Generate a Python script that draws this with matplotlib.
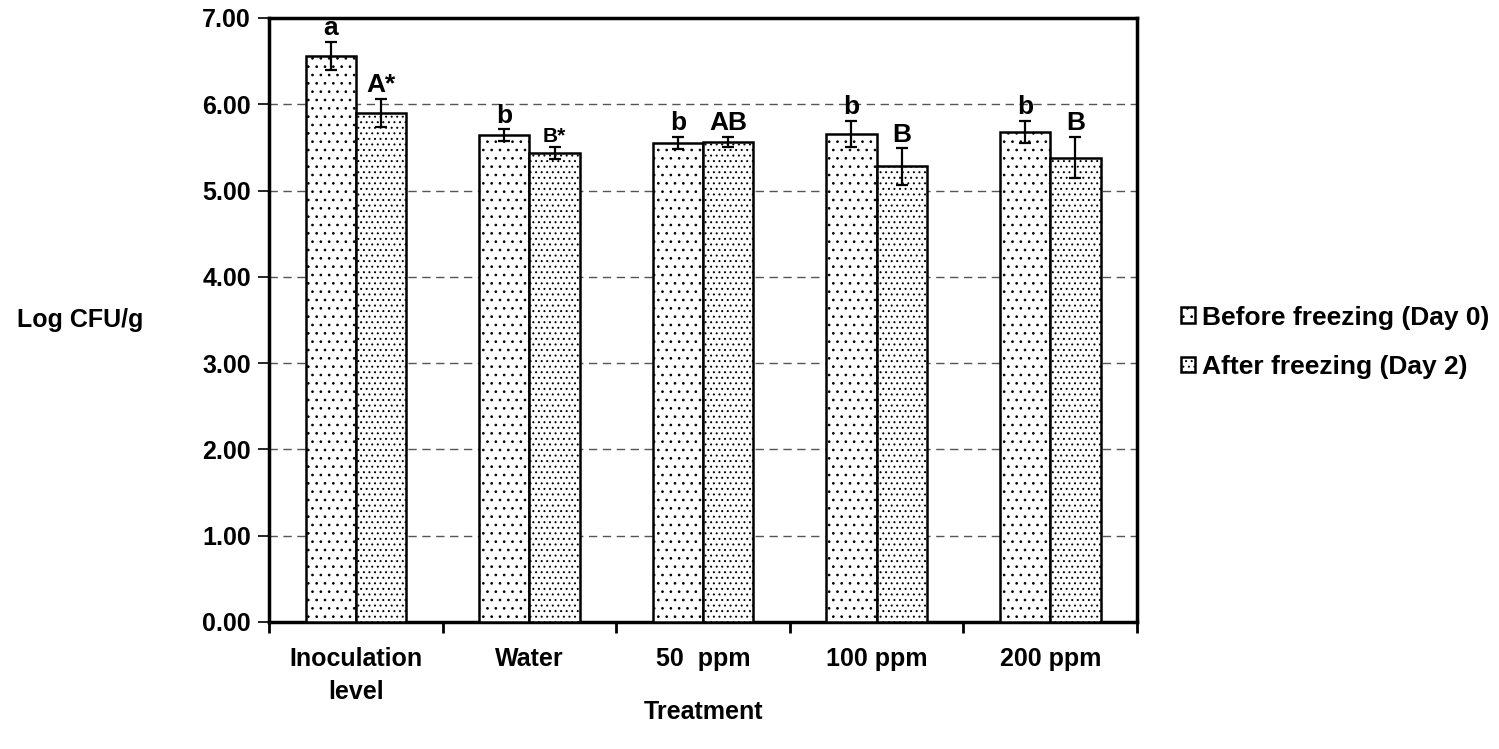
import numpy as np
import matplotlib
matplotlib.use("Agg")
import matplotlib.pyplot as plt

plt.rcParams["font.family"] = ["Liberation Sans", "DejaVu Sans"]
plt.rcParams["font.weight"] = "bold"
plt.rcParams["hatch.linewidth"] = 0.7

categories = ["Inoculation\nlevel", "Water", "50  ppm", "100 ppm", "200 ppm"]
before = [6.56, 5.64, 5.55, 5.66, 5.68]
before_err = [0.16, 0.07, 0.07, 0.15, 0.13]
after = [5.90, 5.43, 5.56, 5.28, 5.38]
after_err = [0.16, 0.07, 0.06, 0.21, 0.24]
before_letters = ["a", "b", "b", "b", "b"]
after_letters = ["A*", "B*", "AB", "B", "B"]

fig = plt.figure(figsize=(14.99, 7.49), dpi=100)
ax = fig.add_axes([0.1795, 0.1696, 0.579, 0.8064])

x = np.arange(len(categories)) + 0.5
w = 0.29
b1 = ax.bar(x - w / 2, before, w, color="white", edgecolor="black", linewidth=1.8,
            hatch="..", label="Before freezing (Day 0)", zorder=3)
b2 = ax.bar(x + w / 2, after, w, color="white", edgecolor="black", linewidth=1.8,
            hatch="...", label="After freezing (Day 2)", zorder=3)
ax.errorbar(x - w / 2, before, yerr=before_err, fmt="none", ecolor="black",
            elinewidth=1.6, capsize=4.5, capthick=1.6, zorder=4)
ax.errorbar(x + w / 2, after, yerr=after_err, fmt="none", ecolor="black",
            elinewidth=1.6, capsize=4.5, capthick=1.6, zorder=4)

for i in range(len(categories)):
    ax.text(x[i] - w / 2, before[i] + before_err[i] + 0.02, before_letters[i],
            ha="center", va="bottom", fontsize=19, fontweight="bold")
    fs = 15 if after_letters[i] == "B*" else 19
    ax.text(x[i] + w / 2, after[i] + after_err[i] + 0.02, after_letters[i],
            ha="center", va="bottom", fontsize=fs, fontweight="bold")

ax.set_xlim(0, len(categories))
ax.set_ylim(0, 7)
ax.set_yticks(np.arange(0, 7.01, 1))
ax.set_yticklabels([f"{v:.2f}" for v in np.arange(0, 7.01, 1)], fontsize=18, fontweight="bold")
ax.set_xticks(np.arange(len(categories) + 1))
ax.set_xticklabels([])
ax.set_xticks(x, minor=True)
ax.set_xticklabels(categories, minor=True, fontsize=18, fontweight="bold", linespacing=1.45)
ax.tick_params(axis="x", which="minor", length=0, pad=18)
ax.tick_params(axis="x", which="major", length=8, width=2, direction="out")
ax.tick_params(axis="y", length=8, width=1.2, direction="out", pad=5)

for s in ax.spines.values():
    s.set_linewidth(2.5)
for yv in range(1, 7):
    ax.axhline(yv, color="#555555", linestyle=(0, (6, 4)), linewidth=1.0, zorder=1)

fig.text(0.0535, 0.573, "Log CFU/g", fontsize=18, fontweight="bold", ha="center", va="center")
fig.text(0.469, 0.049, "Treatment", fontsize=18, fontweight="bold", ha="center", va="center")

leg = fig.legend(handles=[b1, b2], loc="center left", bbox_to_anchor=(0.772, 0.543),
                 frameon=False, fontsize=19, handlelength=0.55, handleheight=0.55,
                 handletextpad=0.25, labelspacing=0.95)
for t in leg.get_texts():
    t.set_fontweight("bold")

fig.savefig("out.png", dpi=100)
